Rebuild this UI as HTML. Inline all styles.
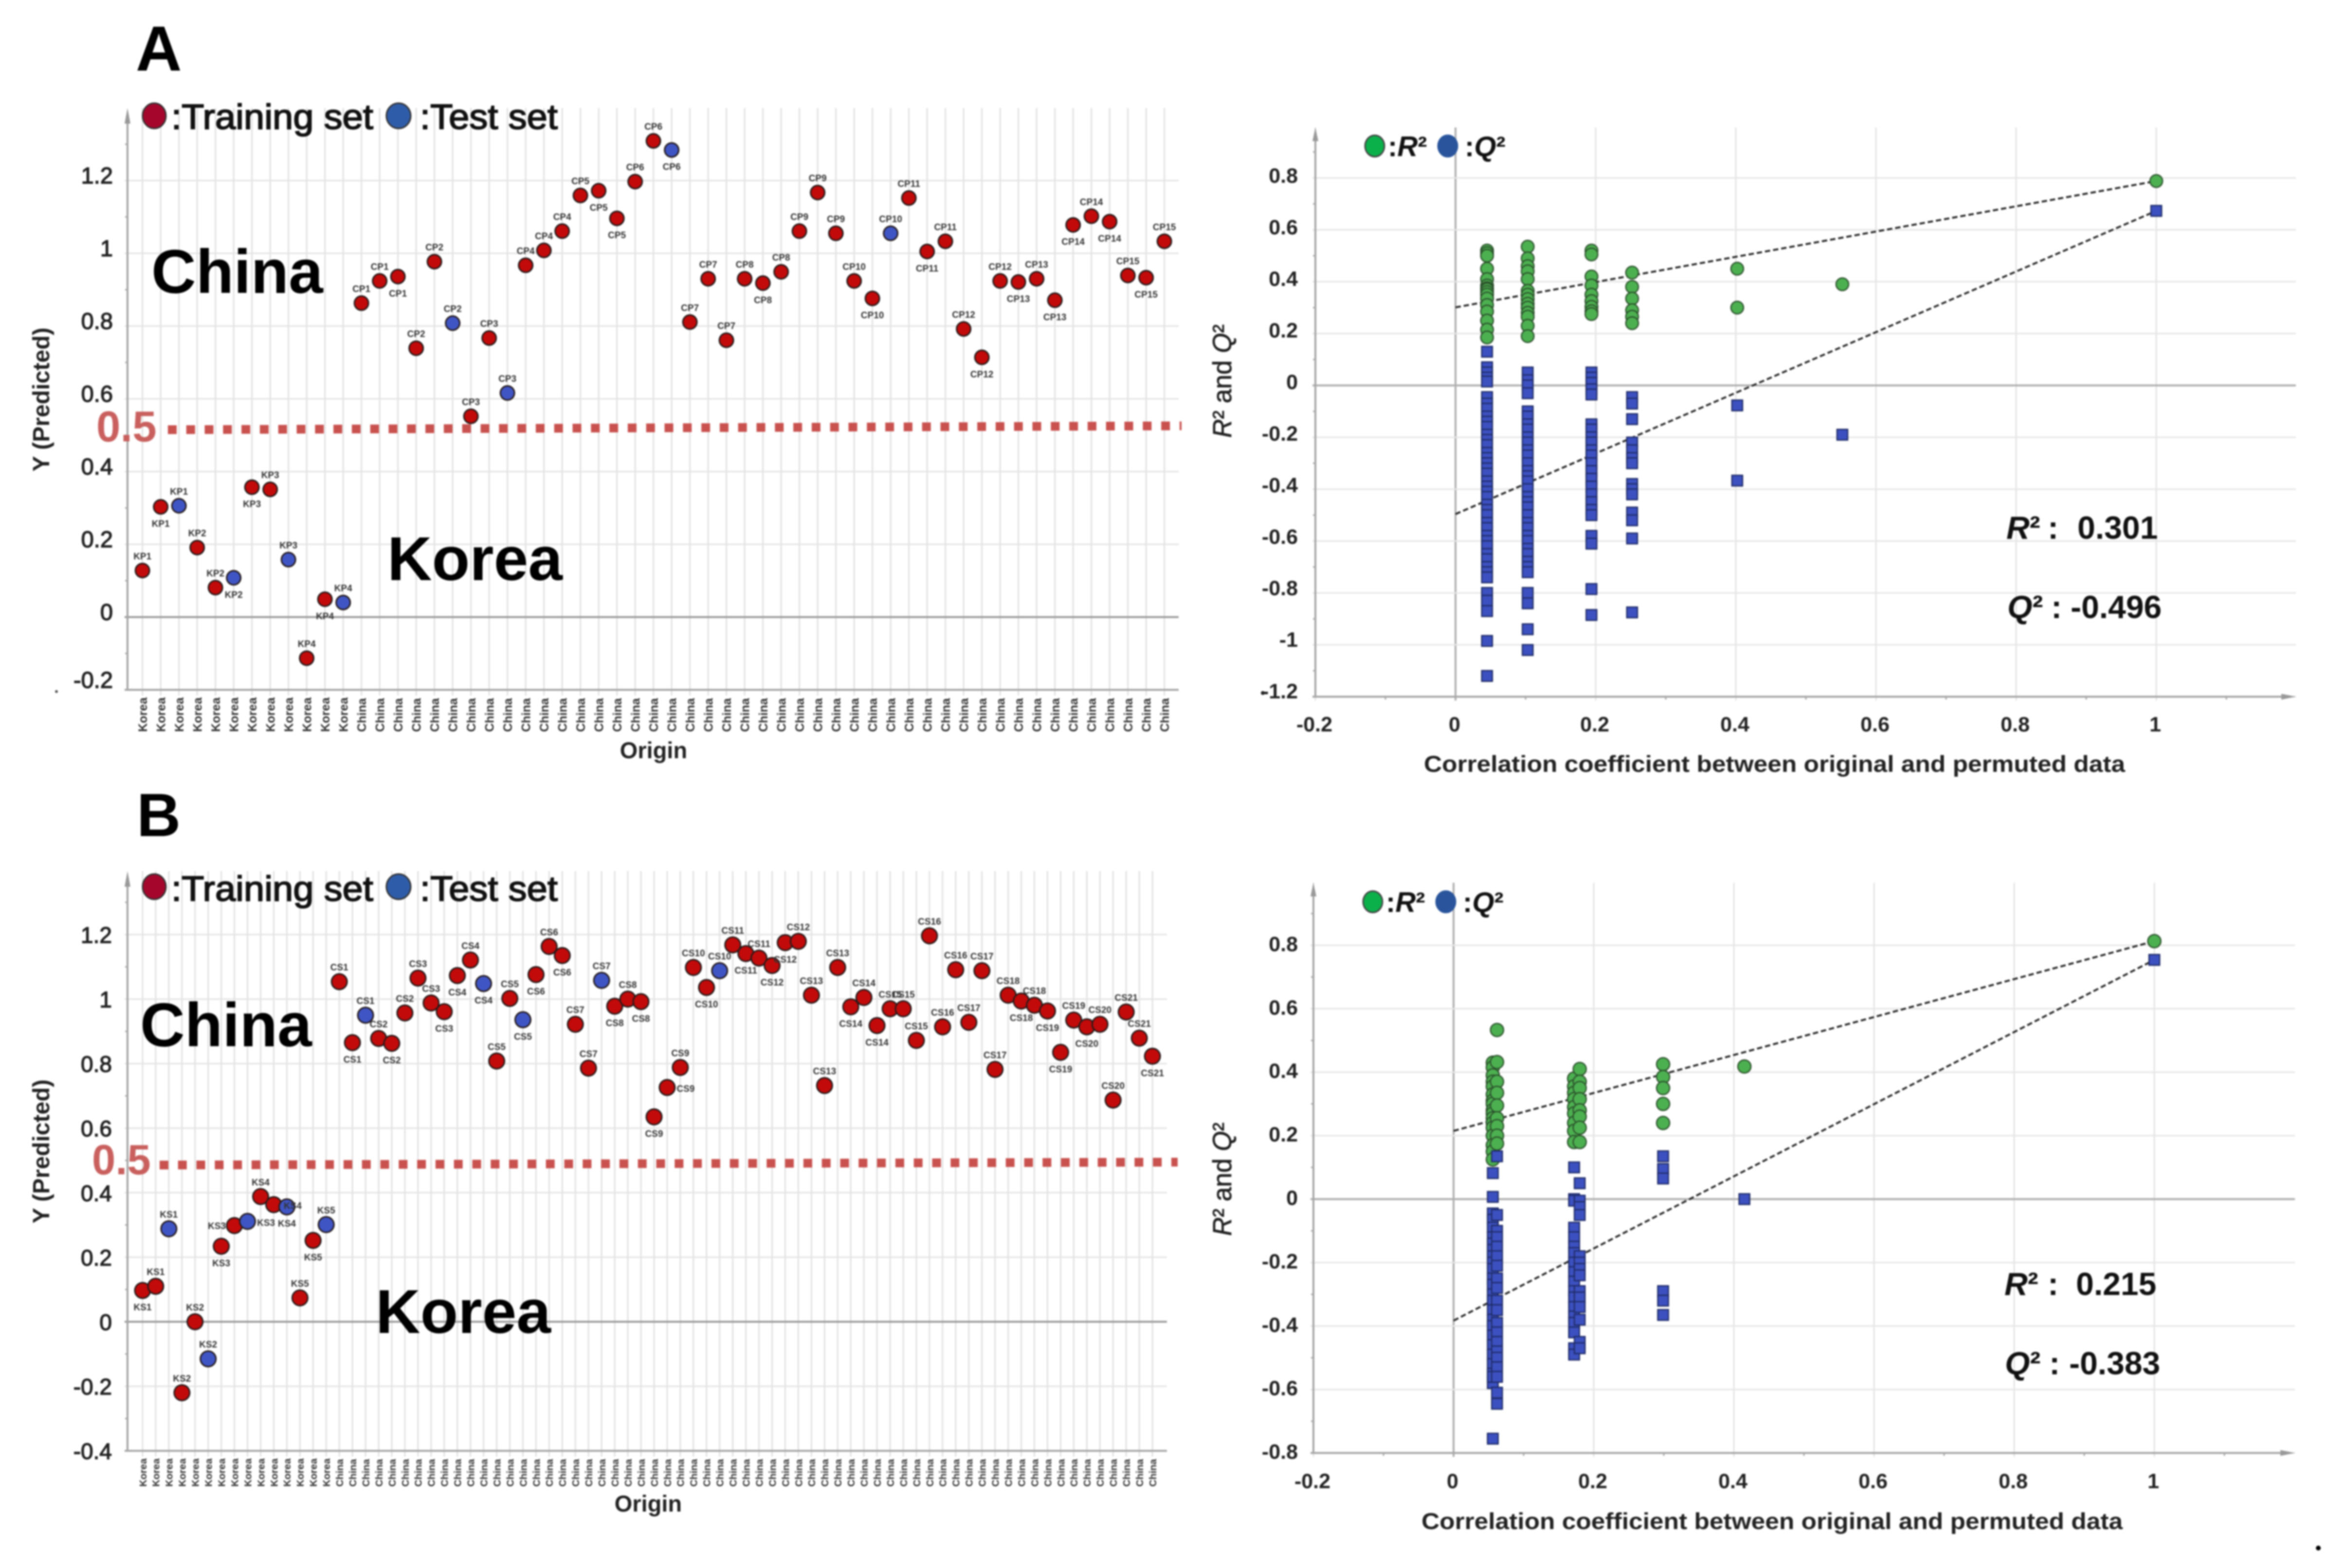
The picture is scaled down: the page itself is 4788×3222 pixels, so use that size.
<!DOCTYPE html>
<html lang="en">
<head>
<meta charset="utf-8">
<title>QSAR model predictions and permutation tests</title>
<style>
html,body{margin:0;padding:0;background:#fff;}
#figure{display:block;filter:blur(1.5px);font-family:"Liberation Sans",Arial,sans-serif;}
.big{font-weight:700;fill:#000;}
.lgd{fill:#111;stroke:#111;stroke-width:2;}
.stat{font-weight:700;fill:#111;font-size:66px;}
.ax-title{font-weight:700;fill:#222;}
</style>
</head>
<body>
<svg id="figure" xmlns="http://www.w3.org/2000/svg" width="4788" height="3222" viewBox="0 0 4788 3222">
  <rect width="4788" height="3222" fill="#ffffff"/>
  <g id="layer-charts"></g>

  <text class="big" x="279" y="145" font-size="131">A</text>
  <text class="big" x="281" y="1718" font-size="125">B</text>

  <g>
    <ellipse cx="317" cy="238" rx="24" ry="26" fill="#a5062c" stroke="#333" stroke-width="3"/>
    <text class="lgd" x="352" y="265" font-size="72" textLength="415" lengthAdjust="spacingAndGlyphs">:Training set</text>
    <ellipse cx="819" cy="238" rx="25" ry="26" fill="#2f5ca8" stroke="#333" stroke-width="3"/>
    <text class="lgd" x="863" y="265" font-size="72" textLength="283" lengthAdjust="spacingAndGlyphs">:Test set</text>
  </g>
  <g>
    <ellipse cx="317" cy="1822" rx="24" ry="26" fill="#a5062c" stroke="#333" stroke-width="3"/>
    <text class="lgd" x="352" y="1851" font-size="72" textLength="415" lengthAdjust="spacingAndGlyphs">:Training set</text>
    <ellipse cx="819" cy="1822" rx="25" ry="26" fill="#2f5ca8" stroke="#333" stroke-width="3"/>
    <text class="lgd" x="863" y="1851" font-size="72" textLength="283" lengthAdjust="spacingAndGlyphs">:Test set</text>
  </g>

  <text class="big" x="311" y="602" font-size="127">China</text>
  <text class="big" x="796" y="1192" font-size="127">Korea</text>
  <text class="big" x="288" y="2150" font-size="127">China</text>
  <text class="big" x="772" y="2739" font-size="127">Korea</text>

  <line x1="345" y1="883" x2="2428" y2="875" stroke="#c9524f" stroke-width="18" stroke-dasharray="18 19.8"/>
  <text x="198" y="907" font-size="89" font-weight="700" fill="#c9605e">0.5</text>
  <line x1="328" y1="2394" x2="2420" y2="2388" stroke="#c9524f" stroke-width="18" stroke-dasharray="18 19.8"/>
  <text x="189" y="2413" font-size="87" font-weight="700" fill="#c9605e">0.5</text>

  <g font-weight="700" font-size="58" fill="#111">
    <ellipse cx="2825" cy="300" rx="20" ry="22" fill="#0cb04a" stroke="#444" stroke-width="3"/>
    <text x="2852" y="321">:<tspan font-style="italic">R</tspan>²</text>
    <ellipse cx="2975" cy="300" rx="20" ry="22" fill="#2a559c" stroke="#2a559c" stroke-width="3"/>
    <text x="3010" y="321">:<tspan font-style="italic">Q</tspan>²</text>
  </g>
  <g font-weight="700" font-size="58" fill="#111">
    <ellipse cx="2821" cy="1853" rx="20" ry="22" fill="#0cb04a" stroke="#444" stroke-width="3"/>
    <text x="2848" y="1874">:<tspan font-style="italic">R</tspan>²</text>
    <ellipse cx="2971" cy="1853" rx="20" ry="22" fill="#2a559c" stroke="#2a559c" stroke-width="3"/>
    <text x="3006" y="1874">:<tspan font-style="italic">Q</tspan>²</text>
  </g>

  <text class="stat" y="1107"><tspan x="4123" font-style="italic">R</tspan><tspan>²</tspan><tspan x="4208">:</tspan><tspan x="4269">0.301</tspan></text>
  <text class="stat" y="1270"><tspan x="4125" font-style="italic">Q</tspan><tspan>²</tspan><tspan x="4215">:</tspan><tspan x="4255">-0.496</tspan></text>
  <text class="stat" y="2661"><tspan x="4119" font-style="italic">R</tspan><tspan>²</tspan><tspan x="4208">:</tspan><tspan x="4266">0.215</tspan></text>
  <text class="stat" y="2824"><tspan x="4120" font-style="italic">Q</tspan><tspan>²</tspan><tspan x="4211">:</tspan><tspan x="4252">-0.383</tspan></text>

  <circle cx="116" cy="1421" r="3" fill="#555"/>
  <circle cx="2595" cy="1424" r="4" fill="#222"/>
  <circle cx="4764" cy="3181" r="5" fill="#000"/>
</svg>

<script>
/* ---------- Panel A, predicted-vs-origin chart ---------- */
const aSamples = ["KP1","KP1","KP1","KP2","KP2","KP2","KP3","KP3","KP3","KP4","KP4","KP4","CP1","CP1","CP1","CP2","CP2","CP2","CP3","CP3","CP3","CP4","CP4","CP4","CP5","CP5","CP5","CP6","CP6","CP6","CP7","CP7","CP7","CP8","CP8","CP8","CP9","CP9","CP9","CP10","CP10","CP10","CP11","CP11","CP11","CP12","CP12","CP12","CP13","CP13","CP13","CP14","CP14","CP14","CP15","CP15","CP15"];
const aOrigins = ["Korea","Korea","Korea","Korea","Korea","Korea","Korea","Korea","Korea","Korea","Korea","Korea","China","China","China","China","China","China","China","China","China","China","China","China","China","China","China","China","China","China","China","China","China","China","China","China","China","China","China","China","China","China","China","China","China","China","China","China","China","China","China","China","China","China","China","China","China"];
const aPredicted = [0.128,0.303,0.306,0.191,0.081,0.108,0.357,0.351,0.158,-0.113,0.049,0.04,0.863,0.924,0.936,0.739,0.977,0.808,0.552,0.767,0.616,0.967,1.008,1.061,1.159,1.172,1.096,1.197,1.309,1.284,0.811,0.93,0.761,0.93,0.918,0.949,1.061,1.167,1.055,0.924,0.876,1.055,1.152,1.005,1.033,0.792,0.714,0.924,0.921,0.93,0.871,1.078,1.102,1.087,0.939,0.933,1.033];
const aSets = ["train","train","test","train","train","test","train","train","test","train","train","test","train","train","train","train","train","test","train","train","test","train","train","train","train","train","train","train","train","test","train","train","train","train","train","train","train","train","train","train","train","test","train","train","train","train","train","train","train","train","train","train","train","train","train","train","train"];
const aLabelSides = ["a","b","a","a","a","b","b","a","a","a","b","a","a","a","b","a","a","a","a","a","a","a","a","a","a","b","b","a","a","b","a","a","a","a","b","a","a","a","a","a","b","a","a","b","a","a","b","a","b","a","b","b","a","b","a","b","a"];
const aYTicks = [1.2,1,0.8,0.6,0.4,0.2,0,-0.2];

/* ---------- Panel B, predicted-vs-origin chart ---------- */
const bSamples = ["KS1","KS1","KS1","KS2","KS2","KS2","KS3","KS3","KS3","KS4","KS4","KS4","KS5","KS5","KS5","CS1","CS1","CS1","CS2","CS2","CS2","CS3","CS3","CS3","CS4","CS4","CS4","CS5","CS5","CS5","CS6","CS6","CS6","CS7","CS7","CS7","CS8","CS8","CS8","CS9","CS9","CS9","CS10","CS10","CS10","CS11","CS11","CS11","CS12","CS12","CS12","CS13","CS13","CS13","CS14","CS14","CS14","CS15","CS15","CS15","CS16","CS16","CS16","CS17","CS17","CS17","CS18","CS18","CS18","CS19","CS19","CS19","CS20","CS20","CS20","CS21","CS21","CS21"];
const bOrigins = ["Korea","Korea","Korea","Korea","Korea","Korea","Korea","Korea","Korea","Korea","Korea","Korea","Korea","Korea","Korea","China","China","China","China","China","China","China","China","China","China","China","China","China","China","China","China","China","China","China","China","China","China","China","China","China","China","China","China","China","China","China","China","China","China","China","China","China","China","China","China","China","China","China","China","China","China","China","China","China","China","China","China","China","China","China","China","China","China","China","China","China","China","China"];
const bPredicted = [0.097,0.11,0.288,-0.22,0,-0.115,0.234,0.298,0.311,0.388,0.363,0.356,0.074,0.252,0.301,1.054,0.865,0.95,0.878,0.863,0.957,1.065,0.988,0.961,1.073,1.121,1.048,0.808,1.002,0.936,1.076,1.163,1.135,0.922,0.786,1.058,0.978,1,0.992,0.635,0.726,0.788,1.098,1.036,1.088,1.168,1.141,1.127,1.104,1.175,1.179,1.012,0.732,1.098,0.976,1.005,0.918,0.97,0.97,0.872,1.196,0.914,1.091,0.928,1.088,0.782,1.012,0.994,0.981,0.963,0.835,0.935,0.914,0.922,0.687,0.96,0.879,0.823];
const bSets = ["train","train","test","train","train","test","train","train","test","train","train","test","train","train","test","train","train","test","train","train","train","train","train","train","train","train","test","train","train","test","train","train","train","train","train","test","train","train","train","train","train","train","train","train","test","train","train","train","train","train","train","train","train","train","train","train","train","train","train","train","train","train","train","train","train","train","train","train","train","train","train","train","train","train","train","train","train","train"];
const bLabelSides = ["b","a","a","a","a","a","b","l","r","a","x","o","a","b","a","a","b","a","a","b","a","a","a","b","b","a","b","a","a","b","b","a","b","a","a","a","b","a","b","b","r","a","a","b","a","a","b","a","b","b","a","a","a","a","b","a","b","a","a","a","a","a","a","a","a","a","a","b","a","b","b","a","b","a","a","a","a","b"];
const bYTicks = [1.2,1,0.8,0.6,0.4,0.2,0,-0.2,-0.4];

/* ---------- Panel A, permutation test ---------- */
const aR2Corr = [0.045,0.045,0.045,0.045,0.045,0.045,0.045,0.045,0.045,0.045,0.045,0.045,0.045,0.045,0.045,0.045,0.103,0.103,0.103,0.103,0.103,0.103,0.103,0.103,0.103,0.103,0.103,0.103,0.103,0.103,0.194,0.194,0.194,0.194,0.194,0.194,0.194,0.194,0.194,0.252,0.252,0.252,0.252,0.252,0.252,0.402,0.402,0.552,1];
const aR2Vals = [0.52,0.51,0.5,0.45,0.41,0.385,0.375,0.37,0.36,0.35,0.335,0.31,0.285,0.25,0.215,0.185,0.535,0.49,0.46,0.44,0.41,0.365,0.35,0.333,0.315,0.3,0.28,0.265,0.23,0.19,0.52,0.505,0.42,0.385,0.35,0.325,0.303,0.286,0.275,0.435,0.38,0.335,0.29,0.265,0.24,0.45,0.3,0.39,0.788];
const aQ2Corr = [0.045,0.045,0.045,0.045,0.045,0.045,0.045,0.045,0.045,0.045,0.045,0.045,0.045,0.045,0.045,0.045,0.045,0.045,0.045,0.045,0.045,0.045,0.045,0.045,0.045,0.045,0.045,0.045,0.045,0.045,0.045,0.045,0.045,0.045,0.045,0.045,0.045,0.045,0.045,0.045,0.045,0.103,0.103,0.103,0.103,0.103,0.103,0.103,0.103,0.103,0.103,0.103,0.103,0.103,0.103,0.103,0.103,0.103,0.103,0.103,0.103,0.103,0.103,0.103,0.103,0.103,0.103,0.103,0.103,0.103,0.103,0.103,0.103,0.103,0.103,0.194,0.194,0.194,0.194,0.194,0.194,0.194,0.194,0.194,0.194,0.194,0.194,0.194,0.194,0.194,0.194,0.194,0.194,0.194,0.194,0.194,0.194,0.194,0.252,0.252,0.252,0.252,0.252,0.252,0.252,0.252,0.252,0.252,0.252,0.252,0.252,0.252,0.402,0.402,0.552,1];
const aQ2Vals = [0.13,0.07,0.05,0.03,0.015,-0.045,-0.07,-0.09,-0.12,-0.14,-0.16,-0.19,-0.21,-0.23,-0.26,-0.28,-0.3,-0.32,-0.34,-0.37,-0.39,-0.41,-0.43,-0.46,-0.48,-0.5,-0.53,-0.55,-0.58,-0.6,-0.62,-0.65,-0.67,-0.7,-0.72,-0.74,-0.8,-0.83,-0.87,-0.985,-1.12,0.05,0.02,0,-0.03,-0.1,-0.12,-0.15,-0.17,-0.2,-0.22,-0.25,-0.27,-0.3,-0.33,-0.35,-0.37,-0.4,-0.43,-0.45,-0.47,-0.5,-0.53,-0.55,-0.58,-0.6,-0.63,-0.65,-0.68,-0.7,-0.72,-0.8,-0.84,-0.94,-1.02,0.05,0.03,0.01,-0.015,-0.035,-0.15,-0.17,-0.2,-0.22,-0.25,-0.27,-0.3,-0.33,-0.36,-0.39,-0.42,-0.45,-0.48,-0.5,-0.58,-0.61,-0.785,-0.885,-0.045,-0.07,-0.13,-0.22,-0.25,-0.28,-0.3,-0.38,-0.4,-0.42,-0.49,-0.52,-0.59,-0.875,-0.077,-0.367,-0.19,0.673];
const aR2Line = [0.301,0.788];
const aQ2Line = [-0.496,0.673];
const aPermYTicks = [0.8,0.6,0.4,0.2,0,-0.2,-0.4,-0.6,-0.8,-1,-1.2];

/* ---------- Panel B, permutation test ---------- */
const bR2Corr = [0.056,0.056,0.056,0.056,0.056,0.056,0.056,0.056,0.056,0.056,0.056,0.056,0.056,0.056,0.056,0.056,0.056,0.062,0.062,0.062,0.062,0.062,0.062,0.062,0.062,0.062,0.172,0.172,0.172,0.172,0.172,0.172,0.172,0.172,0.172,0.18,0.18,0.18,0.18,0.18,0.18,0.18,0.18,0.299,0.299,0.299,0.299,0.299,0.415,1];
const bR2Vals = [0.43,0.415,0.39,0.37,0.355,0.33,0.31,0.3,0.28,0.27,0.255,0.24,0.225,0.2,0.17,0.15,0.125,0.533,0.432,0.37,0.335,0.295,0.255,0.23,0.2,0.175,0.38,0.355,0.335,0.315,0.29,0.27,0.24,0.215,0.18,0.41,0.37,0.35,0.315,0.28,0.26,0.225,0.18,0.425,0.385,0.35,0.3,0.24,0.418,0.813];
const bQ2Corr = [0.056,0.056,0.056,0.056,0.056,0.056,0.056,0.056,0.056,0.056,0.056,0.056,0.056,0.056,0.056,0.056,0.056,0.056,0.056,0.056,0.056,0.056,0.056,0.056,0.056,0.056,0.062,0.062,0.062,0.062,0.062,0.062,0.062,0.062,0.062,0.062,0.062,0.062,0.062,0.062,0.062,0.062,0.062,0.062,0.062,0.062,0.172,0.172,0.172,0.172,0.172,0.172,0.172,0.172,0.172,0.172,0.172,0.172,0.172,0.172,0.172,0.172,0.172,0.172,0.18,0.18,0.18,0.18,0.18,0.18,0.18,0.18,0.18,0.18,0.18,0.18,0.18,0.18,0.299,0.299,0.299,0.299,0.299,0.299,0.415,1];
const bQ2Vals = [0.082,0.007,-0.045,-0.065,-0.09,-0.12,-0.14,-0.16,-0.18,-0.2,-0.22,-0.25,-0.27,-0.3,-0.32,-0.35,-0.38,-0.4,-0.43,-0.46,-0.49,-0.52,-0.55,-0.58,-0.755,-0.56,0.135,-0.05,-0.1,-0.12,-0.15,-0.18,-0.21,-0.25,-0.28,-0.32,-0.35,-0.39,-0.42,-0.45,-0.48,-0.5,-0.53,-0.56,-0.61,-0.645,0.1,0,-0.005,-0.09,-0.12,-0.15,-0.17,-0.2,-0.23,-0.26,-0.29,-0.31,-0.34,-0.37,-0.39,-0.42,-0.47,-0.49,0.05,-0.005,-0.025,-0.05,-0.18,-0.2,-0.22,-0.24,-0.29,-0.31,-0.34,-0.38,-0.45,-0.47,0.135,0.095,0.065,-0.29,-0.32,-0.365,0,0.754];
const bR2Line = [0.215,0.813];
const bQ2Line = [-0.383,0.754];
const bPermYTicks = [0.8,0.6,0.4,0.2,0,-0.2,-0.4,-0.6,-0.8];

const permXTicks = [-0.2,0,0.2,0.4,0.6,0.8,1];

const NS = "http://www.w3.org/2000/svg";
const root = document.getElementById("layer-charts");
function make(tag, attrs, parent, txt) {
  const n = document.createElementNS(NS, tag);
  for (const k in attrs) n.setAttribute(k, attrs[k]);
  if (txt !== undefined) n.textContent = txt;
  parent.appendChild(n);
  return n;
}

function drawOriginChart(o) {
  const g = make("g", {}, root);
  
  
  const xOf = i => o.x0 + i * o.dx;
  const yOf = v => o.y0 - v * o.unit;
  const axisY = yOf(o.yMin);

  o.origins.forEach((c, i) => {
    const grid = make("line", {x1:xOf(i), x2:xOf(i), y1:o.top, y2:axisY + 12, stroke:"#e2e2e2", "stroke-width":3}, g);
    
    
  });
  o.yTicks.forEach(t => {
    const grid = make("line", {x1:o.axisX - 6, x2:o.right, y1:yOf(t), y2:yOf(t), stroke:t === 0 ? "#9c9c9c" : "#e4e4e4", "stroke-width":t === 0 ? 4 : 3}, g);
    
    
    const shift = t === o.yMin ? o.minShift : o.tickShift;
    const lab = make("text", {x:o.tickRight, y:yOf(t) + shift, "text-anchor":"end", "font-size":o.tickFont, fill:"#222", stroke:"#222", "stroke-width":1.4}, g, String(t));
    
    
    const minor = make("line", {x1:o.axisX - 5, x2:o.axisX, y1:yOf(t + 0.1), y2:yOf(t + 0.1), stroke:"#aaa", "stroke-width":3}, g);
    
    
  });
  const yAxis = make("line", {x1:o.axisX, x2:o.axisX, y1:o.top + 24, y2:axisY, stroke:"#a6a6a6", "stroke-width":4}, g);
  
  
  const arrow = make("polygon", {points:`${o.axisX-6},${o.top+32} ${o.axisX+6},${o.top+32} ${o.axisX},${o.top}`, fill:"#999"}, g);
  
  
  const xAxis = make("line", {x1:o.axisX - 6, x2:o.right, y1:axisY, y2:axisY, stroke:"#a6a6a6", "stroke-width":4}, g);
  
  

  o.origins.forEach((c, i) => {
    const lx = xOf(i) + o.catFont * 0.38;
    const lab = make("text", {x:lx, y:o.catEnd, transform:`rotate(-90 ${lx} ${o.catEnd})`, "font-size":o.catFont, "font-weight":700, fill:"#333"}, g, c);
    
    
  });

  o.values.forEach((v, i) => {
    const dot = make("circle", {cx:xOf(i), cy:yOf(v), r:o.r, fill:o.sets[i] === "test" ? "#3f55c4" : "#c20a0a", stroke:"#261a1a", "stroke-width":3}, g);
    
    
  });
  o.values.forEach((v, i) => {
    const s = o.sides[i];
    let lx = xOf(i), ly = yOf(v);
    if (s === "a") ly -= 23;
    else if (s === "b") ly += 41;
    else if (s === "l") { lx -= 36; ly += 7; }
    else if (s === "r") { lx += 38; ly += 9; }
    else if (s === "x") { lx += 27; ly += 45; }
    else if (s === "o") { lx += 12; ly += 4; }
    const lab = make("text", {x:lx, y:ly, "text-anchor":"middle", "font-size":19, "font-weight":700, fill:"#333"}, g, o.samples[i]);
    
    
  });

  const ox = make("text", {x:o.titleX, y:o.titleY, "text-anchor":"middle", "font-size":47, class:"ax-title"}, g, "Origin");
  
  
  const oy = make("text", {x:101, y:o.yTitleY, "text-anchor":"middle", "font-size":48, class:"ax-title", textLength:296, lengthAdjust:"spacingAndGlyphs", transform:`rotate(-90 101 ${o.yTitleY})`}, g, "Y (Predicted)");
  
  
}

function drawPermChart(o) {
  const g = make("g", {}, root);
  
  
  const xOf = v => o.x0 + v * o.ux;
  const yOf = v => o.y0 - v * o.uy;
  const axisX = xOf(-0.2);
  const axisY = yOf(o.yMin);

  permXTicks.forEach(t => {
    const grid = make("line", {x1:xOf(t), x2:xOf(t), y1:o.top, y2:axisY + 8, stroke:t === 0 ? "#b0b0b0" : "#e4e4e4", "stroke-width":t === 0 ? 4 : 3}, g);
    
    
    const lab = make("text", {x:xOf(t) - 2, y:o.xTickY, "text-anchor":"middle", "font-size":43, "font-weight":700, fill:"#222"}, g, String(t));
    
    
    const minor = make("line", {x1:xOf(t + 0.1), x2:xOf(t + 0.1), y1:axisY, y2:axisY + 6, stroke:"#aaa", "stroke-width":3}, g);
    
    
  });
  o.yTicks.forEach(t => {
    const grid = make("line", {x1:axisX - 6, x2:o.right, y1:yOf(t), y2:yOf(t), stroke:t === 0 ? "#b0b0b0" : "#e6e6e6", "stroke-width":t === 0 ? 4 : 3}, g);
    
    
    const lab = make("text", {x:o.tickRight, y:yOf(t) + o.tickShift + o.tickSlope * t, "text-anchor":"end", "font-size":43, "font-weight":700, fill:"#222"}, g, String(t));
    
    
    const minor = make("line", {x1:axisX - 5, x2:axisX, y1:yOf(t + 0.1), y2:yOf(t + 0.1), stroke:"#aaa", "stroke-width":3}, g);
    
    
  });
  const yAxis = make("line", {x1:axisX, x2:axisX, y1:o.top + 24, y2:axisY, stroke:"#a6a6a6", "stroke-width":4}, g);
  
  
  const yArrow = make("polygon", {points:`${axisX-6},${o.top+28} ${axisX+6},${o.top+28} ${axisX},${o.top}`, fill:"#999"}, g);
  
  
  const xAxis = make("line", {x1:axisX - 6, x2:o.right - 20, y1:axisY, y2:axisY, stroke:"#a6a6a6", "stroke-width":4}, g);
  
  
  const xArrow = make("polygon", {points:`${o.right-30},${axisY-6} ${o.right-30},${axisY+6} ${o.right},${axisY}`, fill:"#999"}, g);
  
  

  const r2Trend = make("line", {x1:xOf(0), y1:yOf(o.r2Line[0]), x2:xOf(1), y2:yOf(o.r2Line[1]), stroke:"#2a2a2a", "stroke-width":4, "stroke-dasharray":"11 6"}, g);
  
  
  const q2Trend = make("line", {x1:xOf(0), y1:yOf(o.q2Line[0]), x2:xOf(1), y2:yOf(o.q2Line[1]), stroke:"#2a2a2a", "stroke-width":4, "stroke-dasharray":"11 6"}, g);
  
  

  o.r2Vals.forEach((v, i) => {
    const c = make("circle", {cx:xOf(o.r2Corr[i]), cy:yOf(v), r:o.r, fill:"#4cb050", stroke:"#2b4f2b", "stroke-width":2.5}, g);
    
    
  });
  o.q2Vals.forEach((v, i) => {
    const s = make("rect", {x:xOf(o.q2Corr[i]) - 11, y:yOf(v) - 11, width:22, height:22, fill:"#3c50c0", stroke:"#1f2b66", "stroke-width":2.5}, g);
    
    
  });

  const ox = make("text", {x:o.xTitleX, y:o.xTitleY, "font-size":47, class:"ax-title", textLength:1441, lengthAdjust:"spacingAndGlyphs"}, g, "Correlation coefficient between original and permuted data");
  
  
  const oy = make("text", {x:2530, y:o.yTitleY, "text-anchor":"middle", "font-size":54, fill:"#222", stroke:"#222", "stroke-width":0.8, textLength:233, lengthAdjust:"spacingAndGlyphs", transform:`rotate(-90 2530 ${o.yTitleY})`}, g);
  
  
  make("tspan", {"font-style":"italic"}, oy, "R");
  make("tspan", {}, oy, "² and ");
  make("tspan", {"font-style":"italic"}, oy, "Q");
  make("tspan", {}, oy, "²");
}

drawOriginChart({name:"predicted-chart-a", samples:aSamples, origins:aOrigins, values:aPredicted, sets:aSets, sides:aLabelSides, yTicks:aYTicks,
  x0:292.7, dx:37.5, y0:1268, unit:747.5, yMin:-0.2, top:222, right:2422, axisX:262, r:14.5, tickRight:232, tickShift:6, minShift:-4, tickFont:47, catFont:25, catEnd:1504, titleX:1343, titleY:1558, yTitleY:821});
drawOriginChart({name:"predicted-chart-b", samples:bSamples, origins:bOrigins, values:bPredicted, sets:bSets, sides:bLabelSides, yTicks:bYTicks,
  x0:293, dx:26.95, y0:2716, unit:663, yMin:-0.4, top:1790, right:2398, axisX:262, r:16, tickRight:230, tickShift:17, minShift:17, tickFont:46, catFont:20.5, catEnd:3055, titleX:1332, titleY:3106, yTitleY:2366});
drawPermChart({name:"permutation-chart-a", r2Corr:aR2Corr, r2Vals:aR2Vals, q2Corr:aQ2Corr, q2Vals:aQ2Vals, r2Line:aR2Line, q2Line:aQ2Line, yTicks:aPermYTicks,
  x0:2991, ux:1440, y0:792, uy:533, yMin:-1.2, top:262, right:4718, r:13, tickRight:2667, tickShift:7.4, tickSlope:3.25, xTickY:1503, xTitleX:2926, xTitleY:1586, yTitleY:783});
drawPermChart({name:"permutation-chart-b", r2Corr:bR2Corr, r2Vals:bR2Vals, q2Corr:bQ2Corr, q2Vals:bQ2Vals, r2Line:bR2Line, q2Line:bQ2Line, yTicks:bPermYTicks,
  x0:2987, ux:1440, y0:2464, uy:652, yMin:-0.8, top:1814, right:4716, r:13.5, tickRight:2667, tickShift:12, tickSlope:0, xTickY:3058, xTitleX:2921, xTitleY:3142, yTitleY:2423});
</script>
</body>
</html>
